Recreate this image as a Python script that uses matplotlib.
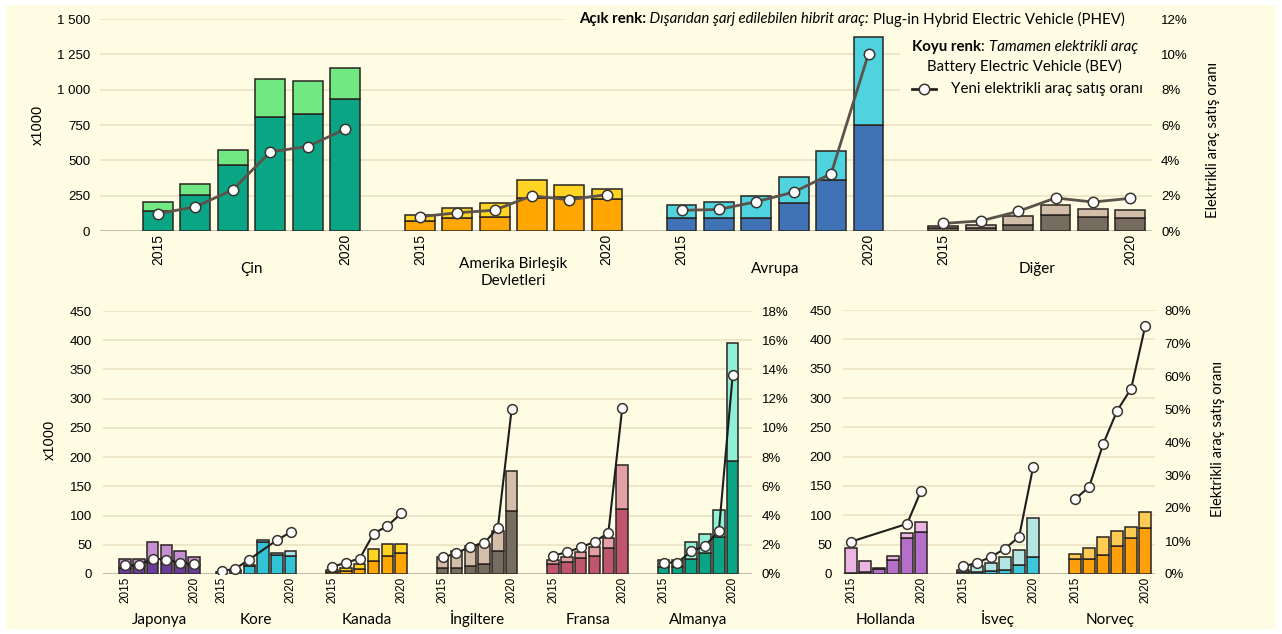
import matplotlib.pyplot as plt
from matplotlib.ticker import FuncFormatter, MultipleLocator
from matplotlib.transforms import blended_transform_factory
from matplotlib.patches import Rectangle
from matplotlib.lines import Line2D

BG = '#FEFCE2'
NUM_FONT = 'Liberation Sans'
TXT_FONT = 'Lato'

years = ['2015', '2020']

# --- üst panel: bölgeler (x1000 araç, satış oranı %) ---
top_names = ['Çin', 'Amerika Birleşik\nDevletleri', 'Avrupa', 'Diğer']
top_total = [[207, 335, 574, 1078, 1059, 1156],
             [112, 160, 200, 361, 323, 295],
             [186, 204, 246, 384, 565, 1373],
             [38, 45, 104, 184, 158, 151]]
top_bev = [[145, 258, 464, 808, 827, 931],
           [70, 89, 101, 235, 242, 228],
           [89, 89, 91, 196, 360, 747],
           [19, 24, 45, 111, 101, 92]]
top_share = [[0.98, 1.37, 2.33, 4.48, 4.78, 5.76],
             [0.81, 1.03, 1.18, 1.99, 1.77, 2.06],
             [1.17, 1.22, 1.66, 2.20, 3.24, 10.04],
             [0.43, 0.57, 1.11, 1.87, 1.64, 1.85]]

# --- alt sol panel: ülkeler ---
mid_names = ['Japonya', 'Kore', 'Kanada', 'İngiltere', 'Fransa', 'Almanya']
mid_total = [[25, 25, 54, 49, 39, 29],
             [4, 7, 15, 59, 36, 40],
             [6, 11, 17, 43, 51, 51],
             [29, 39, 48, 51, 74, 177],
             [24, 29, 37, 47, 62, 186],
             [24, 24, 55, 68, 110, 396]]
mid_bev = [[10, 14, 18, 24, 20, 15],
           [3, 5, 14, 55, 33, 31],
           [3, 5, 9, 22, 31, 36],
           [10, 11, 14, 17, 39, 108],
           [17, 21, 27, 31, 44, 111],
           [12, 12, 25, 36, 64, 194]]
mid_share = [[0.60, 0.60, 1.06, 0.99, 0.76, 0.67],
             [0.19, 0.37, 0.99, None, 2.32, 2.86],
             [0.48, 0.78, 1.06, 2.77, 3.28, 4.15],
             [1.13, 1.42, 1.88, 2.11, 3.16, 11.3],
             [1.26, 1.49, 1.83, 2.20, 2.82, 11.33],
             [0.78, 0.78, 1.55, 1.93, 2.94, 13.6]]

# --- alt sağ panel ---
right_names = ['Hollanda', 'İsveç', 'Norveç']
right_total = [[44, 22, 11, 30, 70, 89],
               [7, 13, 19, 29, 41, 95],
               [34, 45, 63, 73, 80, 106]]
right_bev = [[2, 4, 9, 24, 62, 72],
             [3, 3, 5, 7, 15, 29],
             [25, 25, 33, 47, 61, 78]]
right_share = [[9.8, None, None, None, 15.2, 25.2],
               [2.3, 3.4, 5.2, 7.7, 11.3, 32.4],
               [22.7, 26.4, 39.4, 49.5, 56.2, 75.1]]

top_colors = [('#0AA585', '#72E882'), ('#FFA600', '#FFD424'),
              ('#3F73B6', '#4FD3DE'), ('#776C60', '#D3BEA9')]
mid_colors = [('#6A3D9A', '#C590D3'), ('#33C3D6', '#A9E3E8'),
              ('#FFA600', '#FFD424'), ('#776C60', '#D3BEA9'),
              ('#C0566E', '#E3A0A5'), ('#0AA585', '#8FF0D5')]
right_colors = [('#B56FCB', '#EBB5E3'), ('#3EC7DA', '#B3E6E2'),
                ('#FF9F0A', '#FFCB55')]

plt.rcParams['font.family'] = [NUM_FONT, 'DejaVu Sans']

fig = plt.figure(figsize=(12.82, 6.34), dpi=100, facecolor='white')
fig.patches.append(Rectangle((6 / 1282, 5 / 634), 1 - 12 / 1282, 1 - 10 / 634,
                             transform=fig.transFigure, facecolor=BG,
                             edgecolor='none', zorder=-10))


def fx(px):
    return px / 1282


def fy(py):
    return 1 - py / 634


def thousands(v, pos):
    return f'{int(v):,}'.replace(',', ' ')


def draw_panel(rect, slots, names, totals, bevs, shares, colors, xlim, ymax,
               ystep, pmax, pstep, width, line_color, lw, ms, year_fs,
               lpad, rpad, name_base, name_top):
    ax = fig.add_axes(rect)
    ax.set_facecolor('none')
    ax2 = ax.twinx()
    ax.set_zorder(1)
    ax2.set_zorder(2)
    ticks, labels = [], []
    tr = blended_transform_factory(ax.transData, ax.transAxes)
    for s, name, tot, bev, share, (dk, lt) in zip(slots, names, totals, bevs,
                                                  shares, colors):
        xs = [s + i for i in range(len(tot))]
        phev = [t - b for t, b in zip(tot, bev)]
        ax.bar(xs, bev, width, color=dk, edgecolor='#2A2420', lw=1.1, zorder=2)
        ax.bar(xs, phev, width, bottom=bev, color=lt, edgecolor='#2A2420',
               lw=1.1, zorder=2)
        px = [x for x, v in zip(xs, share) if v is not None]
        pv = [v for v in share if v is not None]
        ax2.plot(px, pv, color=line_color, lw=lw, marker='o', ms=ms,
                 mfc='white', mec='#3A3430', mew=1.1, zorder=3)
        ticks += [xs[0], xs[-1]]
        labels += years
        if '\n' in name:
            ny, va = name_top, 'top'
        else:
            ny, va = name_base, 'baseline'
        ax.text(s + (len(tot) - 1) / 2, ny, name, transform=tr,
                ha='center', va=va, fontsize=11, family=TXT_FONT,
                linespacing=1.25)
    for a in (ax, ax2):
        a.set_xlim(*xlim)
        for sp in a.spines.values():
            sp.set_visible(False)
    ax.set_ylim(0, ymax)
    ax2.set_ylim(0, pmax)
    ax.yaxis.set_major_locator(MultipleLocator(ystep))
    ax2.yaxis.set_major_locator(MultipleLocator(pstep))
    ax.yaxis.set_major_formatter(FuncFormatter(thousands))
    ax2.yaxis.set_major_formatter(FuncFormatter(lambda v, p: f'{v:.0f}%'))
    ax.grid(axis='y', color='#EAE2C4', lw=1.2, zorder=0)
    ax.axhline(0, color='#BDB7A6', lw=1.2, zorder=1)
    ax.set_axisbelow(True)
    ax.set_xticks(ticks)
    ax.set_xticklabels(labels, rotation=90, fontsize=year_fs, va='top')
    ax.tick_params(axis='x', length=0, pad=2)
    ax.tick_params(axis='y', length=0, pad=lpad, labelsize=9.5)
    ax2.tick_params(axis='y', length=0, pad=rpad, labelsize=9.5)
    return ax, ax2


# üst panel
ax, ax2 = draw_panel([fx(100), fy(231), fx(1052), 212 / 634], [0, 7, 14, 21],
                     top_names, top_total, top_bev, top_share, top_colors,
                     (-1.55, 26.58), 1500, 250, 12, 2, 0.8, '#5C524A', 2.0,
                     7.5, 10, 7, 6.5, -0.196, -0.123)
ax.set_ylabel('x1000', fontsize=10.5)
ax.yaxis.set_label_coords(-0.052, 0.5)
ax2.set_ylabel('Elektrikli araç satış oranı', fontsize=10.5, family=TXT_FONT)
ax2.yaxis.set_label_coords(1.051, 0.43)

# açıklama metni arkası
fig.patches.append(Rectangle((fx(565), fy(32)), fx(600), 26 / 634,
                             transform=fig.transFigure, facecolor=BG,
                             edgecolor='none', zorder=1.5))
fig.patches.append(Rectangle((fx(900), fy(102)), fx(254), 68 / 634,
                             transform=fig.transFigure, facecolor=BG,
                             edgecolor='none', zorder=1.5))

legend_fs = 10.8
t3 = fig.text(fx(1125), fy(19), ' Plug-in Hybrid Electric Vehicle (PHEV)',
              ha='right', va='center', fontsize=legend_fs, family=TXT_FONT)
t2 = fig.text(0, 0, ' Dışarıdan şarj edilebilen hibrit araç:', fontsize=legend_fs,
              family=TXT_FONT, style='italic', ha='right', va='center')
t1 = fig.text(0, 0, 'Açık renk:', fontsize=legend_fs, family=TXT_FONT,
              weight='bold', ha='right', va='center')

k3 = fig.text(fx(1138), fy(47), 'Tamamen elektrikli araç', ha='right',
              va='center', fontsize=legend_fs, family=TXT_FONT, style='italic')
k2 = fig.text(0, 0, ': ', fontsize=legend_fs, family=TXT_FONT, ha='right',
              va='center')
k1 = fig.text(0, 0, 'Koyu renk', fontsize=legend_fs, family=TXT_FONT,
              weight='bold', ha='right', va='center')
fig.text(fx(1024), fy(66), 'Battery Electric Vehicle (BEV)', ha='center',
         va='center', fontsize=legend_fs, family=TXT_FONT)
fig.text(fx(951), fy(89), 'Yeni elektrikli araç satış oranı', ha='left',
         va='center', fontsize=legend_fs, family=TXT_FONT)
fig.lines.append(Line2D([fx(912), fx(936)], [fy(89), fy(89)],
                        transform=fig.transFigure, color='#2A2420', lw=2,
                        zorder=3))
fig.lines.append(Line2D([fx(924)], [fy(89)], transform=fig.transFigure,
                        marker='o', ms=7.5, mfc='white', mec='#3A3430',
                        mew=1.1, zorder=4))

# parça metinleri sağdan sola yerleştir
fig.canvas.draw()
inv = fig.transFigure.inverted()
for right, left in ((t3, t2), (t2, t1), (k3, k2), (k2, k1)):
    bb = right.get_window_extent()
    x0, yc = inv.transform((bb.x0, (bb.y0 + bb.y1) / 2))
    left.set_position((x0, yc))

# alt sol panel
ax, ax2 = draw_panel([fx(103), fy(574), fx(649), 263 / 634],
                     [0, 7, 15, 23, 31, 39], mid_names, mid_total, mid_bev,
                     mid_share, mid_colors, (-1.59, 45.4), 450, 50, 18, 2,
                     0.83, '#1E1E1E', 1.5, 7, 8.5, 8, 7, -0.192, -0.16)
ax.set_ylabel('x1000', fontsize=10.5)
ax.yaxis.set_label_coords(-0.071, 0.51)

# alt sağ panel
ax, ax2 = draw_panel([fx(843), fy(574), fx(312), 264 / 634], [0, 8, 16],
                     right_names, right_total, right_bev, right_share,
                     right_colors, (-0.57, 21.7), 450, 50, 80, 10, 0.86,
                     '#1E1E1E', 1.5, 7, 8.5, 8, 7, -0.19, -0.16)
ax2.set_ylabel('Elektrikli araç satış oranı', fontsize=10.5, family=TXT_FONT)
ax2.yaxis.set_label_coords(1.179, 0.51)

fig.savefig('out.png', dpi=100, facecolor='white')
